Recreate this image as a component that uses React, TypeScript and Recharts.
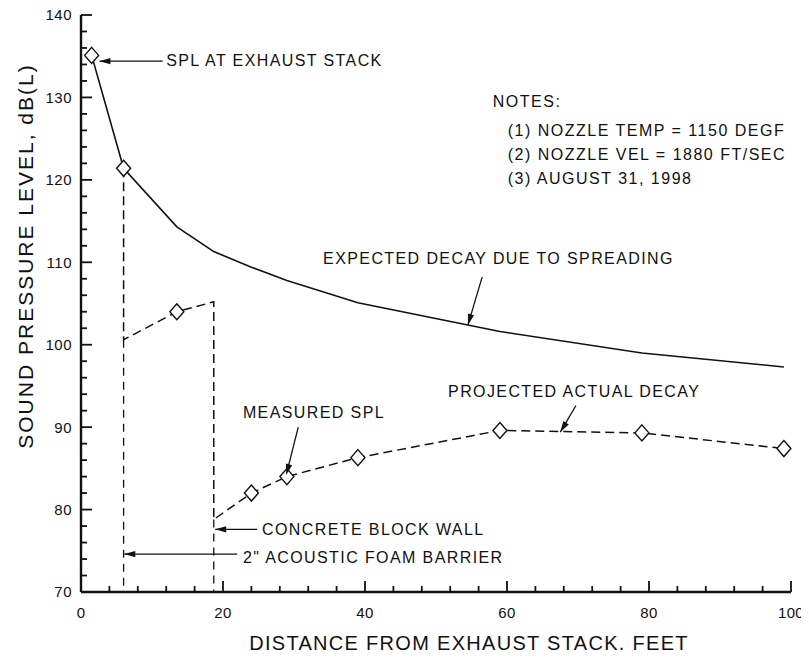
import { LineChart, Line, XAxis, YAxis, ReferenceLine, ReferenceDot } from 'recharts';

// distance from exhaust stack (ft) and sound pressure level dB(L)
const measuredDist = [1.5, 6, 13.5, 24, 29, 39, 59, 79, 99];
const measuredSpl = [135.1, 121.4, 104.0, 82.0, 84.0, 86.3, 89.6, 89.3, 87.4];

const expectedDist = [1.5, 6, 13.5, 18.7, 24, 29, 39, 59, 79, 99];
const expectedSpl = [135.1, 121.4, 114.3, 111.3, 109.4, 107.8, 105.1, 101.6, 99.0, 97.3];

const projectedDist = [6, 6, 13.5, 18.7, 18.7, 24, 29, 39, 59, 79, 99];
const projectedSpl = [121.4, 100.6, 104.0, 105.2, 78.8, 82.0, 84.0, 86.3, 89.6, 89.3, 87.4];

const barrierDist = [6, 6];
const barrierSpl = [100.6, 70];
const wallDist = [18.7, 18.7];
const wallSpl = [78.8, 70];

const xMajor = [0, 20, 40, 60, 80, 100];
const xTicks = [0, 4, 8, 12, 16, 20, 24, 28, 32, 36, 40, 44, 48, 52, 56, 60, 64, 68, 72, 76, 80, 84, 88, 92, 96, 100];
const yMajor = [70, 80, 90, 100, 110, 120, 130, 140];
const yTicks = [70, 72, 74, 76, 78, 80, 82, 84, 86, 88, 90, 92, 94, 96, 98, 100, 102, 104, 106, 108, 110, 112, 114, 116, 118, 120, 122, 124, 126, 128, 130, 132, 134, 136, 138, 140];

const notes = [
  { text: 'SPL AT EXHAUST STACK', x: 12.0, y: 133.8 },
  { text: 'NOTES:', x: 58.0, y: 128.8 },
  { text: '(1) NOZZLE TEMP = 1150 DEGF', x: 60.1, y: 125.3 },
  { text: '(2) NOZZLE VEL = 1880 FT/SEC', x: 60.1, y: 122.4 },
  { text: '(3) AUGUST 31, 1998', x: 60.1, y: 119.5 },
  { text: 'EXPECTED DECAY DUE TO SPREADING', x: 34.1, y: 109.8 },
  { text: 'PROJECTED ACTUAL DECAY', x: 51.7, y: 93.7 },
  { text: 'MEASURED SPL', x: 22.8, y: 91.1 },
  { text: 'CONCRETE BLOCK WALL', x: 25.5, y: 76.9 },
  { text: '2" ACOUSTIC FOAM BARRIER', x: 22.8, y: 73.5 },
];

const arrows = [
  { x1: 11.5, y1: 134.4, x2: 2.6, y2: 134.4, angle: 180 },
  { x1: 56.5, y1: 108.2, x2: 54.5, y2: 102.4, angle: 106 },
  { x1: 69.7, y1: 92.6, x2: 67.5, y2: 89.4, angle: 122 },
  { x1: 30.6, y1: 90.0, x2: 28.9, y2: 84.2, angle: 105 },
  { x1: 24.8, y1: 77.6, x2: 18.9, y2: 77.6, angle: 180 },
  { x1: 22.0, y1: 74.6, x2: 6.1, y2: 74.6, angle: 180 },
];

const toPoints = (xs: number[], ys: number[]) => xs.map((x, i) => ({ x, y: ys[i] }));

const FONT = '"Liberation Sans", Arial, Helvetica, sans-serif';
const INK = '#111';

const diamond = (p: any) => (
  <path
    key={`d-${p.index}`}
    d={`M${p.cx},${p.cy - 8} L${p.cx + 7},${p.cy} L${p.cx},${p.cy + 8} L${p.cx - 7},${p.cy} Z`}
    fill="#fff"
    stroke={INK}
    strokeWidth={1.4}
  />
);

export default function App() {
  return (
    <div style={{ width: 809, height: 658, margin: -8, background: '#fff' }}>
      <LineChart width={809} height={658} margin={{ top: 15, right: 18, bottom: 0, left: 0 }}>
        <XAxis
          dataKey="x"
          type="number"
          domain={[0, 100]}
          ticks={xTicks}
          interval={0}
          height={66}
          tick={false}
          tickLine={false}
          axisLine={{ stroke: INK, strokeWidth: 2.4 }}
          label={{
            content: ({ viewBox }: any) => (
              <text
                x={viewBox.x + viewBox.width / 2 + 33}
                y={650}
                textAnchor="middle"
                fontSize={20}
                fontFamily={FONT}
                fill={INK}
                letterSpacing={1.3}
              >
                DISTANCE FROM EXHAUST STACK, FEET
              </text>
            ),
          }}
        />
        <YAxis
          type="number"
          domain={[70, 140]}
          ticks={yTicks}
          interval={0}
          width={81}
          tick={false}
          tickLine={false}
          axisLine={{ stroke: INK, strokeWidth: 2.4 }}
          label={{
            content: () => (
              <text
                x={33}
                y={256}
                transform="rotate(-90 33 256)"
                textAnchor="middle"
                fontSize={21}
                fontFamily={FONT}
                fill={INK}
                letterSpacing={2}
              >
                SOUND PRESSURE LEVEL, dB(L)
              </text>
            ),
          }}
        />

        {/* inward tick marks and tick labels, placed through the axes' scales */}
        {yTicks.map((v) => (
          <ReferenceDot
            key={`yt-${v}`}
            x={0}
            y={v}
            r={0}
            ifOverflow="visible"
            shape={(p: any) => {
              const major = yMajor.includes(v);
              return (
                <g>
                  <path d={`M${p.cx},${p.cy}H${p.cx + (major ? 11 : 6)}`} stroke={INK} strokeWidth={1.8} fill="none" />
                  {major ? (
                    <text x={p.cx - 9} y={p.cy} dy="0.36em" textAnchor="end" fontSize={15} fontFamily={FONT} fill={INK} letterSpacing={0.5}>
                      {v}
                    </text>
                  ) : null}
                </g>
              );
            }}
          />
        ))}
        {xTicks.map((v) => (
          <ReferenceDot
            key={`xt-${v}`}
            x={v}
            y={70}
            r={0}
            ifOverflow="visible"
            shape={(p: any) => {
              const major = xMajor.includes(v);
              return (
                <g>
                  <path d={`M${p.cx},${p.cy}V${p.cy - (major ? 11 : 6)}`} stroke={INK} strokeWidth={1.8} fill="none" />
                  {major ? (
                    <text x={p.cx} y={p.cy + 26} textAnchor="middle" fontSize={15} fontFamily={FONT} fill={INK} letterSpacing={0.3}>
                      {v}
                    </text>
                  ) : null}
                </g>
              );
            }}
          />
        ))}

        <Line
          data={toPoints(expectedDist, expectedSpl)}
          dataKey="y"
          type="linear"
          stroke={INK}
          strokeWidth={1.6}
          dot={false}
          activeDot={false}
          isAnimationActive={false}
        />
        <Line
          data={toPoints(projectedDist, projectedSpl)}
          dataKey="y"
          type="linear"
          stroke={INK}
          strokeWidth={1.5}
          strokeDasharray="9 5"
          dot={false}
          activeDot={false}
          isAnimationActive={false}
        />
        <Line
          data={toPoints(barrierDist, barrierSpl)}
          dataKey="y"
          type="linear"
          stroke={INK}
          strokeWidth={1.3}
          strokeDasharray="8 6"
          dot={false}
          activeDot={false}
          isAnimationActive={false}
        />
        <Line
          data={toPoints(wallDist, wallSpl)}
          dataKey="y"
          type="linear"
          stroke={INK}
          strokeWidth={1.3}
          strokeDasharray="8 6"
          dot={false}
          activeDot={false}
          isAnimationActive={false}
        />
        <Line
          data={toPoints(measuredDist, measuredSpl)}
          dataKey="y"
          type="linear"
          stroke="none"
          strokeWidth={0}
          dot={diamond}
          activeDot={false}
          isAnimationActive={false}
        />

        {arrows.map((a, i) => (
          <ReferenceLine
            key={`al-${i}`}
            segment={[
              { x: a.x1, y: a.y1 },
              { x: a.x2, y: a.y2 },
            ]}
            stroke={INK}
            strokeWidth={1.3}
            ifOverflow="visible"
          />
        ))}
        {arrows.map((a, i) => (
          <ReferenceDot
            key={`ah-${i}`}
            x={a.x2}
            y={a.y2}
            r={0}
            ifOverflow="visible"
            shape={(p: any) => (
              <path
                d="M0,0 L-11,-3.2 L-11,3.2 Z"
                transform={`translate(${p.cx},${p.cy}) rotate(${a.angle})`}
                fill={INK}
              />
            )}
          />
        ))}
        {notes.map((n, i) => (
          <ReferenceDot
            key={`n-${i}`}
            x={n.x}
            y={n.y}
            r={0}
            ifOverflow="visible"
            shape={(p: any) => (
              <text
                x={p.cx}
                y={p.cy}
                fontSize={16}
                fontFamily={FONT}
                fill={INK}
                letterSpacing={i >= 1 && i <= 4 ? 1.5 : 1.4}
              >
                {n.text}
              </text>
            )}
          />
        ))}
      </LineChart>
    </div>
  );
}
